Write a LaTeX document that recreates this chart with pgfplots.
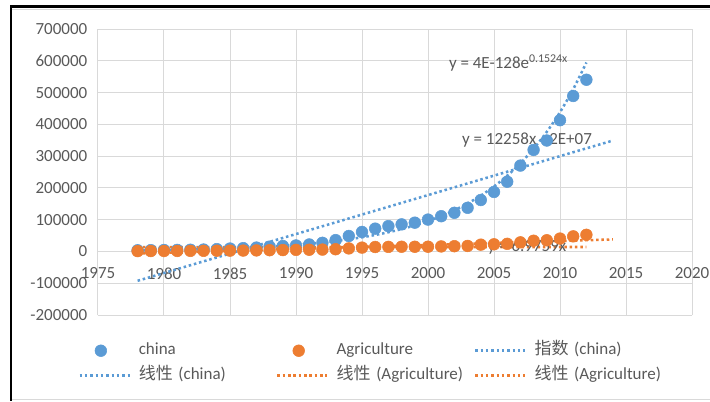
\documentclass[border=0pt]{standalone}
\usepackage{pgfplots}
\pgfplotsset{compat=1.18}
\usepackage{fontspec}
\setmainfont{Carlito}
\newfontfamily\cjk{Noto Sans CJK SC}
\definecolor{cblue}{HTML}{5B9BD5}
\definecolor{corange}{HTML}{ED7D31}
\definecolor{gridc}{HTML}{D9D9D9}
\definecolor{txt}{HTML}{595959}

\pgfplotsset{
  lineleg/.style={legend image code/.code={\draw[##1] (0pt,0pt) -- (37.5pt,0pt);}},
  markleg/.style={legend image code/.code={\draw[mark repeat=2,mark phase=2,##1] plot coordinates {(0pt,0pt) (16pt,0pt) (37.5pt,0pt)};}},
}

\pgfplotstableread{
year china agri
1978 3679 1028
1979 4100 1270
1980 4588 1372
1981 4936 1559
1982 5373 1777
1983 6021 1978
1984 7279 2316
1985 9099 2564
1986 10376 2789
1987 12175 3233
1988 15180 3865
1989 17180 4266
1990 18873 5062
1991 22006 5342
1992 27195 5867
1993 35673 6964
1994 48638 9573
1995 61340 12136
1996 71814 14015
1997 79715 14442
1998 85196 14818
1999 90564 14770
2000 100280 14945
2001 110863 15781
2002 121717 16537
2003 137422 17382
2004 161840 21413
2005 187319 22420
2006 219439 24040
2007 270232 28627
2008 319516 33702
2009 349081 35226
2010 413030 40534
2011 489301 47486
2012 540367 52374
}\datatable

\pgfplotstableread{
year expfit
1978 3340
1979 3890
1980 4530
1981 5276
1982 6145
1983 7157
1984 8335
1985 9707
1986 11305
1987 13166
1988 15333
1989 17857
1990 20797
1991 24221
1992 28209
1993 32853
1994 38261
1995 44560
1996 51896
1997 60440
1998 70390
1999 81978
2000 95474
2001 111192
2002 129497
2003 150816
2004 175645
2005 204561
2006 238238
2007 277459
2008 323137
2009 376335
2010 438290
2011 510445
2012 594479
}\exptable

\begin{document}
\begin{tikzpicture}
\path[use as bounding box] (0,0) rectangle (532.5pt,300.75pt);
% frame
\fill[black] (7.5pt,0pt) rectangle (9pt,297pt);
\fill[black] (7.5pt,294.5pt) rectangle (532.5pt,297pt);
\draw[gridc, line width=0.75pt] (9pt,293.4pt) -- (532.5pt,293.4pt);
\draw[gridc, line width=0.75pt] (9pt,1.5pt) -- (532.5pt,1.5pt);
\begin{axis}[
  at={(73.5pt,64.5pt)}, anchor=south west,
  scale only axis, width=445.5pt, height=214.5pt,
  xmin=1975, xmax=2020, ymin=-200000, ymax=700000,
  xtick={1975,1980,1985,1990,1995,2000,2005,2010,2015,2020},
  xticklabels={1975,1980,1985,1990,1995,2000,2005,2010,2015,2020},
  ytick={-200000,-100000,0,100000,200000,300000,400000,500000,600000,700000},
  yticklabels={-200000,-100000,0,100000,200000,300000,400000,500000,600000,700000},
  scaled y ticks=false, scaled x ticks=false,
  hide obscured x ticks=false, hide obscured y ticks=false,
  grid=major, major grid style={gridc, line width=0.75pt},
  axis x line*=middle, axis y line*=left,
  axis line style={gridc, line width=0.75pt},
  major tick length=0pt,
  tick label style={font=\fontsize{12.75}{15}\selectfont, text=txt},
  xticklabel style={yshift=-8.75pt},
  yticklabel style={xshift=-4.5pt},
  clip=false,
  dotline/.style={line width=1.9pt, dash pattern=on 1.9pt off 2.1pt},
  legend columns=3,
  legend cell align=left,
  legend style={at={(-0.0337,-0.096)}, anchor=north west, draw=none, fill=none,
    inner sep=0pt, font=\fontsize{12.75}{15}\selectfont, text=txt,
    row sep=6.75pt,
    /tikz/every odd column/.append style={column sep=6pt},
    nodes={text width=103pt, inner sep=0pt, text height=9pt, text depth=3pt, align=left}},
  lineleg,
]
\addplot[only marks, mark=*, mark size=4.4pt, color=cblue, mark options={fill=cblue, draw=cblue}, markleg]
  table[x=year, y=china] {\datatable};
\addlegendentry{china}
\addplot[only marks, mark=*, mark size=4.4pt, color=corange, mark options={fill=corange, draw=corange}, markleg]
  table[x=year, y=agri] {\datatable};
\addlegendentry{Agriculture}
\addplot[cblue, dotline, smooth] table[x=year, y=expfit] {\exptable};
\addlegendentry{{\cjk 指数} (china)}
\addplot[cblue, dotline] coordinates {(1978,-92346) (2014,348942)};
\addlegendentry{{\cjk 线性} (china)}
\addplot[corange, dotline] coordinates {(1978,-6698) (2014,37827)};
\addlegendentry{{\cjk 线性} (Agriculture)}
\addplot[corange, dotline] coordinates {(1978,13798) (2012,14035)};
\addlegendentry{{\cjk 线性} (Agriculture)}
\node[text=txt, font=\fontsize{12.75}{15}\selectfont] at (axis cs:2006.1,593000) {y = 4E-128e\textsuperscript{0.1524x}};
\node[text=txt, font=\fontsize{12.75}{15}\selectfont] at (axis cs:2007.5,350000) {y = 12258x - 2E+07};
\node[text=txt, font=\fontsize{12.75}{15}\selectfont] at (axis cs:2007.5,14000) {y = 6.9759x};
\end{axis}
\end{tikzpicture}
\end{document}
